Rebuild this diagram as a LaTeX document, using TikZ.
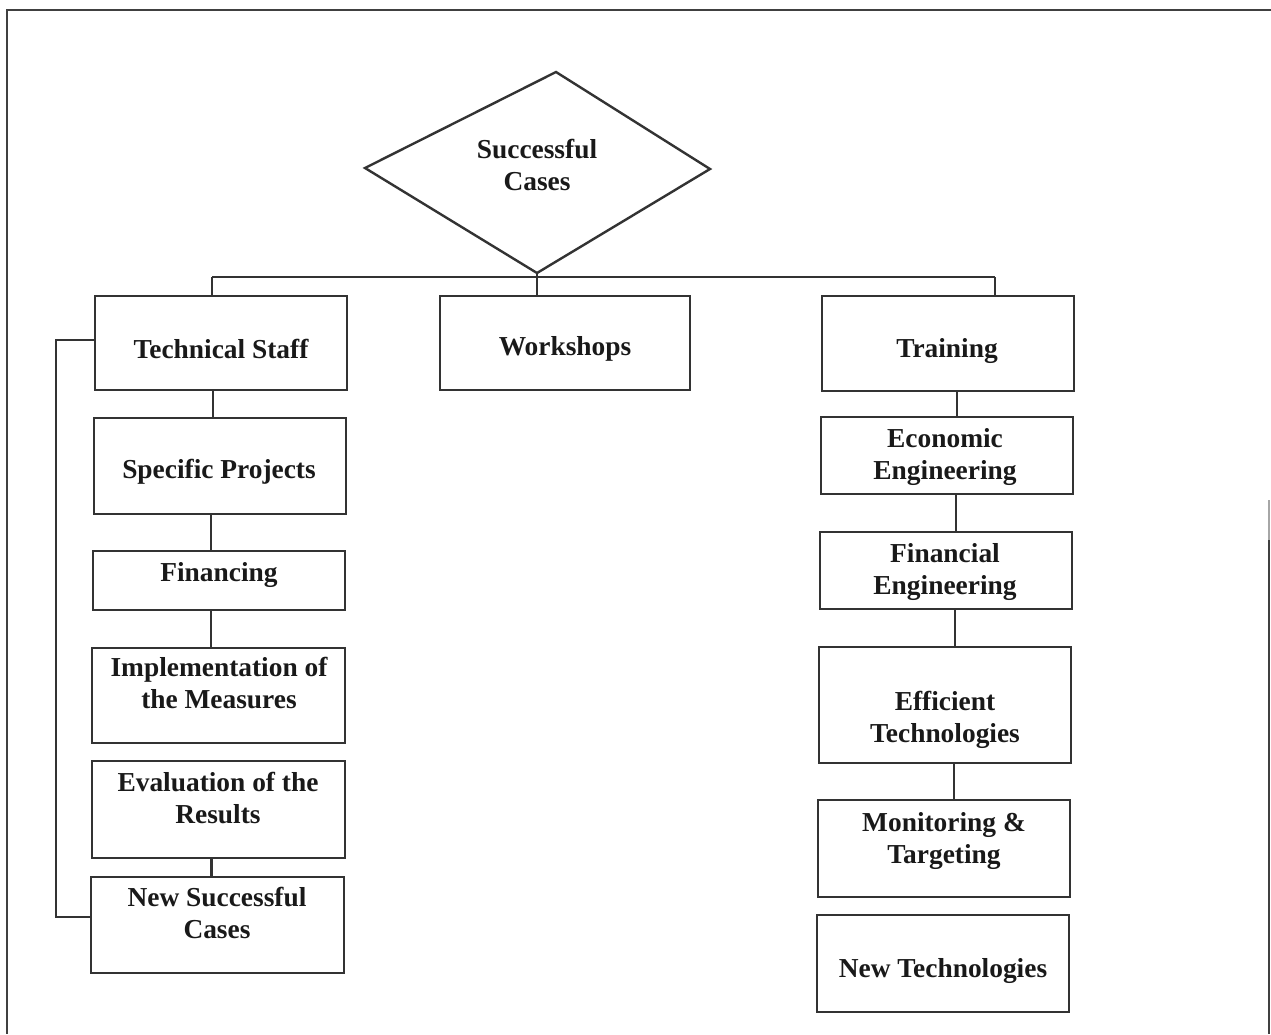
\documentclass[tikz,border=0pt]{standalone}
\usepackage{fontspec}
\setmainfont{Liberation Serif}
\begin{document}
\begin{tikzpicture}[x=1pt,y=-1pt,
  boxnode/.style={draw=black!80, line width=2.6pt, inner sep=0pt},
  lbl/.style={font=\fontsize{27.4}{32}\selectfont\bfseries, align=center, inner sep=0pt, text=black!90},
  conn/.style={draw=black!80, line width=2.4pt},
  frameline/.style={draw=black!75, line width=2.2pt}]
\newcommand\boxat[5]{\node[boxnode, minimum width={#4-#2}, minimum height={#5-#3}] (#1) at ({(#2+#4)/2},{(#3+#5)/2}) {};}
\useasboundingbox (0,0) rectangle (1271,1034);
% frame
\draw[frameline] (1271,10) -- (7,10) -- (7,1034);
\draw[frameline] (1269,540) -- (1269,1034);
\draw[draw=black!35, line width=1.5pt] (1269,500) -- (1269,540);
% diamond
\coordinate (dT) at (556,72);
\coordinate (dR) at (710,169);
\coordinate (dB) at (537,273);
\coordinate (dL) at (365,168);
\draw[conn] (dT) -- (dR) -- (dB) -- (dL) -- cycle;
\node[lbl] (sc) at (537,165) {Successful\\Cases};
% boxes
\boxat{ts}{95}{296}{347}{390}
\boxat{ws}{440}{296}{690}{390}
\boxat{tr}{822}{296}{1074}{391}
\boxat{sp}{94}{418}{346}{514}
\boxat{fin}{93}{551}{345}{610}
\boxat{impl}{92}{648}{345}{743}
\boxat{eval}{92}{761}{345}{858}
\boxat{nsc}{91}{877}{344}{973}
\boxat{econ}{821}{417}{1073}{494}
\boxat{fine}{820}{532}{1072}{609}
\boxat{eff}{819}{647}{1071}{763}
\boxat{mon}{818}{800}{1070}{897}
\boxat{nt}{817}{915}{1069}{1012}
% labels
\node[lbl] (tsl) at (221,349) {Technical Staff};
\node[lbl] (wsl) at (565,349) {Workshops};
\node[lbl] (trl) at (947,351) {Training};
\node[lbl] (spl) at (219,472) {Specific Projects};
\node[lbl] (finl) at (219,575) {Financing};
\node[lbl] (impll) at (219,683) {Implementation of\\the Measures};
\node[lbl] (evall) at (218,798) {Evaluation of the\\Results};
\node[lbl] (nscl) at (217,913) {New Successful\\Cases};
\node[lbl] (econl) at (945,457) {Economic\\Engineering};
\node[lbl] (finel) at (945,572) {Financial\\Engineering};
\node[lbl] (effl) at (945,720) {Efficient\\Technologies};
\node[lbl] (monl) at (944,841) {Monitoring \&\\Targeting};
\node[lbl] (ntl) at (943,971) {New Technologies};
% tree bar
\coordinate (barL) at (212,277);
\coordinate (barR) at (995,277);
\draw[conn] (barL) -- (barR);
\draw[conn] (barL) -- (barL |- ts.north);
\draw[conn] (barR) -- (barR |- tr.north);
\draw[conn] (dB) -- (dB |- ws.north);
% left column
\draw[conn] ([xshift=-8pt]ts.south) -- ([xshift=-8pt]ts.south |- sp.north);
\draw[conn] ([xshift=-9pt]sp.south) -- ([xshift=-9pt]sp.south |- fin.north);
\draw[conn] ([xshift=-8pt]fin.south) -- ([xshift=-8pt]fin.south |- impl.north);
\draw[conn] ([xshift=-7pt]eval.south) -- ([xshift=-7pt]eval.south |- nsc.north);
\draw[conn] ([yshift=3pt]ts.west) -- ++(-38,0) |- ([yshift=8pt]nsc.west);
% right column
\draw[conn] ([xshift=9pt]tr.south) -- ([xshift=9pt]tr.south |- econ.north);
\draw[conn] ([xshift=9pt]econ.south) -- ([xshift=9pt]econ.south |- fine.north);
\draw[conn] ([xshift=9pt]fine.south) -- ([xshift=9pt]fine.south |- eff.north);
\draw[conn] ([xshift=9pt]eff.south) -- ([xshift=9pt]eff.south |- mon.north);
\end{tikzpicture}
\end{document}
